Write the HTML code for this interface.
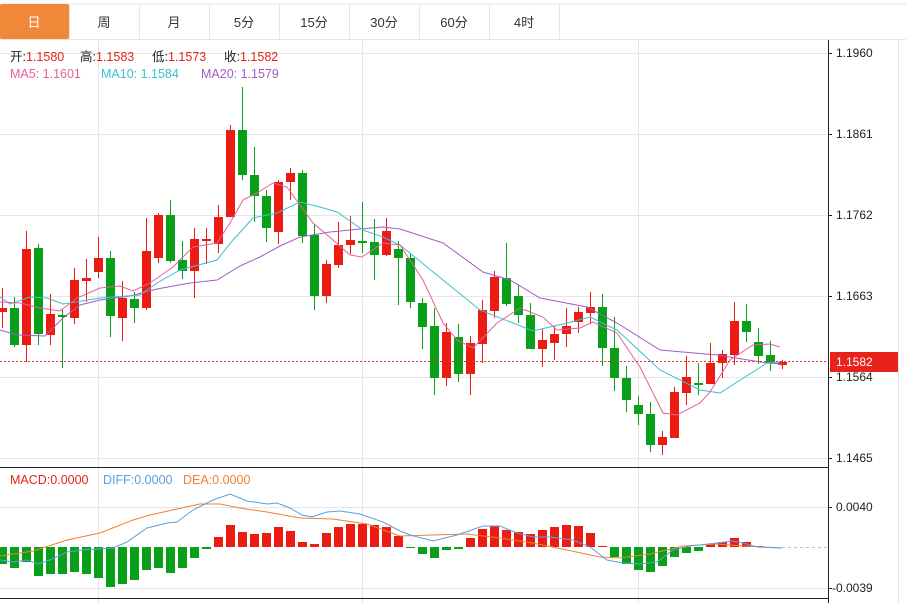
<!DOCTYPE html>
<html><head><meta charset="utf-8"><style>
body{margin:0;width:906px;height:603px;overflow:hidden;background:#fff;font-family:"Liberation Sans","Noto Sans CJK SC",sans-serif}
svg{position:absolute;left:0;top:0}
</style></head><body>
<svg id="s" width="906" height="603" xmlns="http://www.w3.org/2000/svg" font-family="Liberation Sans, Noto Sans CJK SC, sans-serif">
<rect x="0" y="0" width="906" height="603" fill="#fff"/>
<g stroke="#e6e6e6" stroke-width="1">
<line x1="0" y1="4" x2="906" y2="4"/>
<line x1="0" y1="39.5" x2="906" y2="39.5"/>
<line x1="69.5" y1="4" x2="69.5" y2="39"/><line x1="139.5" y1="4" x2="139.5" y2="39"/><line x1="209.5" y1="4" x2="209.5" y2="39"/><line x1="279.5" y1="4" x2="279.5" y2="39"/><line x1="349.5" y1="4" x2="349.5" y2="39"/><line x1="419.5" y1="4" x2="419.5" y2="39"/><line x1="489.5" y1="4" x2="489.5" y2="39"/><line x1="559.5" y1="4" x2="559.5" y2="39"/>
<line x1="0" y1="53.5" x2="828" y2="53.5"/><line x1="0" y1="134.5" x2="828" y2="134.5"/><line x1="0" y1="215.5" x2="828" y2="215.5"/><line x1="0" y1="296.5" x2="828" y2="296.5"/><line x1="0" y1="377.5" x2="828" y2="377.5"/><line x1="0" y1="458.5" x2="828" y2="458.5"/>
<line x1="0" y1="507.5" x2="828" y2="507.5"/><line x1="0" y1="588.5" x2="828" y2="588.5"/>
<line x1="98.5" y1="40" x2="98.5" y2="603"/><line x1="362.5" y1="40" x2="362.5" y2="603"/><line x1="638.5" y1="40" x2="638.5" y2="603"/>
<line x1="898.5" y1="40" x2="898.5" y2="603"/>
</g>
<rect x="0" y="4" width="69" height="35" rx="2" fill="#f0883a"/>
<g font-size="13" text-anchor="middle" fill="#333">
<text x="34" y="27" fill="#fff">日</text><text x="104" y="27">周</text><text x="174" y="27">月</text><text x="244" y="27">5分</text><text x="314" y="27">15分</text><text x="384" y="27">30分</text><text x="454" y="27">60分</text><text x="524" y="27">4时</text>
</g>
<line x1="0" y1="467.5" x2="828" y2="467.5" stroke="#222"/>
<line x1="0" y1="598.5" x2="828" y2="598.5" stroke="#222"/>
<line x1="828.5" y1="40" x2="828.5" y2="603" stroke="#222"/>
<g font-size="12" fill="#222">
<text x="836" y="57">1.1960</text><text x="836" y="138">1.1861</text><text x="836" y="219">1.1762</text><text x="836" y="300">1.1663</text><text x="836" y="381">1.1564</text><text x="836" y="462">1.1465</text>
<text x="836" y="511">0.0040</text><text x="832" y="592">-0.0039</text>
</g>
<g stroke="#222"><line x1="828" y1="53.5" x2="832" y2="53.5"/><line x1="828" y1="134.5" x2="832" y2="134.5"/><line x1="828" y1="215.5" x2="832" y2="215.5"/><line x1="828" y1="296.5" x2="832" y2="296.5"/><line x1="828" y1="377.5" x2="832" y2="377.5"/><line x1="828" y1="458.5" x2="832" y2="458.5"/><line x1="828" y1="507.5" x2="832" y2="507.5"/><line x1="828" y1="588.5" x2="832" y2="588.5"/></g>
<g id="c"></g>
<line x1="0" y1="361.5" x2="828" y2="361.5" stroke="#e8382b" stroke-dasharray="2,2"/>
<rect x="830" y="352" width="68" height="20" fill="#e8231c"/>
<text x="836" y="366" font-size="12" fill="#fff">1.1582</text>
<line x1="782" y1="547.5" x2="828" y2="547.5" stroke="#a8c8d8" stroke-dasharray="3,3"/>
<g font-size="12.5">
<text x="10" y="61" fill="#222">开:<tspan fill="#e8231c">1.1580</tspan></text>
<text x="80" y="61" fill="#222">高:<tspan fill="#e8231c">1.1583</tspan></text>
<text x="152" y="61" fill="#222">低:<tspan fill="#e8231c">1.1573</tspan></text>
<text x="224" y="61" fill="#222">收:<tspan fill="#e8231c">1.1582</tspan></text>
<text x="10" y="78" fill="#e4609a">MA5: 1.1601</text>
<text x="101" y="78" fill="#3cc0d0">MA10: 1.1584</text>
<text x="201" y="78" fill="#a45cc4">MA20: 1.1579</text>
<text x="10" y="484" fill="#e8231c">MACD:0.0000</text>
<text x="103" y="484" fill="#5aa0e0">DIFF:0.0000</text>
<text x="183" y="484" fill="#f08030">DEA:0.0000</text>
</g>
</svg>
<script>
var C=[[2,'r',308,312,288,328],[14,'g',308,345,297,347],[26,'r',249,345,231,362],[38,'g',248,334,244,345],[50,'r',314,335,294,345],[62,'g',315,317,309,368],[74,'r',280,318,268,324],[86,'r',278,281,259,302],[98,'r',258,272,237,278],[110,'g',258,316,251,337],[122,'r',298,318,281,341],[134,'g',299,308,292,323],[146,'r',251,308,218,310],[158,'r',215,258,213,263],[170,'g',215,261,200,263],[182,'g',260,271,241,279],[194,'r',239,271,228,298],[206,'r',239,241,228,264],[218,'r',217,244,205,253],[230,'r',130,217,125,217],[242,'g',130,175,87,180],[254,'g',175,196,147,222],[266,'g',196,228,190,242],[278,'r',182,232,180,244],[290,'r',173,182,168,200],[302,'g',173,236,170,243],[314,'g',235,296,224,310],[326,'r',264,296,260,303],[338,'r',245,265,222,268],[350,'r',240,245,216,254],[362,'g',241,242,202,253],[374,'g',242,255,219,280],[386,'r',231,255,218,256],[398,'g',249,258,241,305],[410,'g',258,302,254,308],[422,'g',303,327,298,349],[434,'g',326,378,308,395],[446,'r',332,378,323,386],[458,'g',337,374,324,382],[470,'r',343,374,336,395],[482,'r',310,344,300,363],[494,'r',277,311,271,318],[506,'g',278,304,243,306],[518,'g',296,315,285,323],[530,'g',315,349,303,349],[542,'r',340,349,329,367],[554,'r',334,343,326,360],[566,'r',326,334,308,347],[578,'r',312,322,307,333],[590,'r',307,313,292,324],[602,'g',307,348,294,366],[614,'g',348,378,317,391],[626,'g',378,400,366,412],[638,'g',405,414,396,425],[650,'g',414,445,402,452],[662,'r',437,445,431,455],[674,'r',392,438,387,438],[686,'r',377,393,356,405],[698,'g',383,384,363,395],[710,'r',363,384,343,384],[722,'r',354,363,350,378],[734,'r',321,355,302,365],[746,'g',321,332,304,342],[758,'g',342,356,328,364],[770,'g',355,363,341,371],[782,'r',362,365,360,369]];
var M=[[2,564],[14,568],[26,562],[38,576],[50,574],[62,574],[74,572],[86,574],[98,578],[110,587],[122,584],[134,580],[146,570],[158,568],[170,573],[182,568],[194,558],[206,549],[218,537],[230,525],[242,532],[254,534],[266,533],[278,527],[290,531],[302,542],[314,544],[326,533],[338,527],[350,524],[362,524],[374,525],[386,527],[398,536],[410,547],[422,554],[434,558],[446,550],[458,549],[470,538],[482,529],[494,526],[506,530],[518,532],[530,534],[542,530],[554,527],[566,525],[578,526],[590,533],[602,546],[614,557],[626,564],[638,570],[650,572],[662,566],[674,557],[686,553],[698,551],[710,544],[722,542],[734,538],[746,542],[758,546]];
var ma5=[[0,302],[20,303],[40,308],[60,311],[77,298],[100,288],[120,286],[133,291],[150,283],[173,267],[193,247],[217,243],[230,223],[243,200],[257,193],[273,183],[287,187],[313,223],[333,240],[350,255],[362,257],[383,243],[400,245],[423,280],[443,323],[457,340],[473,348],[497,323],[520,308],[543,317],[557,330],[580,328],[593,322],[617,333],[640,367],[663,413],[677,415],[700,403],[710,392],[730,360],[753,345],[770,344],[780,347]];
var ma10=[[0,297],[10,304],[30,297],[47,298],[63,304],[100,298],[140,295],[157,283],[180,270],[217,260],[233,240],[253,218],[277,213],[300,202],[320,207],[337,212],[363,230],[383,237],[400,245],[443,280],[480,310],[533,331],[567,323],[590,317],[617,330],[660,370],[700,390],[720,393],[767,363],[780,362]];
var ma20=[[0,330],[17,335],[45,336],[63,318],[80,305],[100,300],[130,296],[157,289],[190,283],[217,280],[240,266],[260,257],[280,246],[300,237],[330,232],[360,229],[383,227],[400,229],[443,243],[483,272],[510,280],[540,298],[587,307],[617,323],[660,350],[717,355],[767,363],[782,364]];
var dea=[[0,556],[33,551],[67,540],[100,533],[133,520],[150,515],[177,509],[200,504],[220,504],[240,508],[267,512],[300,518],[333,519],[367,524],[400,536],[433,535],[467,534],[483,536],[500,538],[533,543],[567,550],[600,557],[620,558],[650,554],[683,546],[717,544],[743,546],[782,548]];
var diff=[[0,560],[13,562],[27,560],[38,564],[50,560],[67,552],[83,550],[113,548],[127,542],[147,528],[167,523],[177,522],[193,510],[213,500],[230,494],[247,501],[267,504],[277,503],[290,508],[302,515],[312,517],[327,512],[340,511],[360,514],[383,522],[400,531],[410,535],[433,541],[457,535],[483,526],[500,526],[517,533],[533,537],[550,537],[573,540],[590,547],[607,560],[623,563],[640,564],[657,562],[673,550],[690,546],[717,543],[733,541],[747,544],[757,547],[782,548]];
var R='#ec1c12',G='#08a018',h='';
C.forEach(function(c){var col=c[1]=='r'?R:G;h+='<line x1="'+(c[0]+.5)+'" y1="'+c[4]+'" x2="'+(c[0]+.5)+'" y2="'+c[5]+'" stroke="'+col+'"/>';var t=Math.min(c[2],c[3]),b=Math.max(c[2],c[3]);if(b-t<2)b=t+2;h+='<rect x="'+(c[0]-4)+'" y="'+t+'" width="9" height="'+(b-t)+'" fill="'+col+'"/>';});
M.forEach(function(m){var z=547,col=m[1]<z?R:G;var t=Math.min(m[1],z),b=Math.max(m[1],z);if(b-t<1)b=t+1;h+='<rect x="'+(m[0]-4)+'" y="'+t+'" width="9" height="'+(b-t)+'" fill="'+col+'"/>';});
function pl(a,c){return '<polyline fill="none" stroke="'+c+'" stroke-width="1" points="'+a.map(function(p){return p.join(',')}).join(' ')+'"/>';}
h+=pl(ma20,'#a45cc4')+pl(ma10,'#3cc0d0')+pl(ma5,'#e4609a')+pl(dea,'#f08030')+pl(diff,'#5aa0e0');
document.getElementById('c').innerHTML=h;
</script>
</body></html>
